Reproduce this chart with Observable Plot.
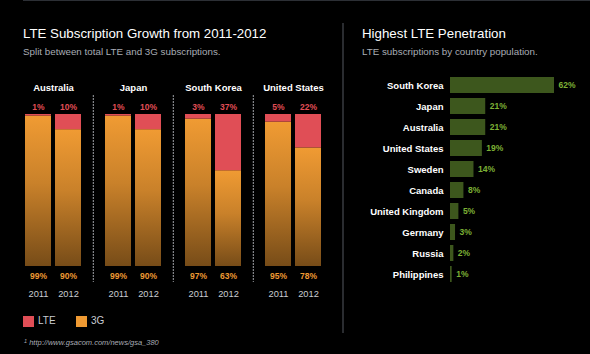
<!DOCTYPE html>
<html>
<head>
<meta charset="utf-8">
<script src="https://cdn.jsdelivr.net/npm/d3@7"></script>
<script src="https://cdn.jsdelivr.net/npm/@observablehq/plot@0.6"></script>
<style>
  html, body { margin: 0; padding: 0; background: #000; }
  #root { position: relative; width: 590px; height: 354px; background: #000; overflow: hidden;
          font-family: "Liberation Sans", Arial, Helvetica, sans-serif; }
  .abs { position: absolute; white-space: nowrap; }
  .title { color: #fff; font-size: 13.3px; }
  .sub { color: #a9adb5; font-size: 9.8px; }
  .topline { position: absolute; left: 23px; top: 0; width: 567px; height: 1px; background: #2c2f35; }
  .vsep { position: absolute; left: 342px; top: 23px; width: 2px; height: 310px; background: #2a2c30; }
  .sw { position: absolute; width: 11px; height: 11px; }
  .leg { color: #c8ccd2; font-size: 10px; }
  .foot { color: #a9adb5; font-size: 7.5px; font-style: italic; }
  svg { position: absolute; }
</style>
</head>
<body>
<div id="root">
  <div class="topline"></div>
  <div class="vsep"></div>
  <div class="abs title" style="left:23px; top:26px;">LTE Subscription Growth from 2011-2012</div>
  <div class="abs sub" style="left:23px; top:46px;">Split between total LTE and 3G subscriptions.</div>
  <div class="abs title" style="left:362px; top:26px;">Highest LTE Penetration</div>
  <div class="abs sub" style="left:362px; top:46px;">LTE subscriptions by country population.</div>
  <div id="legend"></div>
  <div class="abs foot" style="left:24px; top:338px;"><span style="font-size:5.5px; vertical-align:2px">1</span> http://www.gsacom.com/news/gsa_380</div>
</div>
<script>
// ---- Data ----
const countries = ["Australia", "Japan", "South Korea", "United States"];
const years = ["2011", "2012"];
const lteShare = {            // LTE share of subscriptions (%)
  "Australia":     [1, 10],
  "Japan":         [1, 10],
  "South Korea":   [3, 37],
  "United States": [5, 22]
};
const g3Share = {             // 3G share of subscriptions (%)
  "Australia":     [99, 90],
  "Japan":         [99, 90],
  "South Korea":   [97, 63],
  "United States": [95, 78]
};
const penCountries = ["South Korea", "Japan", "Australia", "United States", "Sweden", "Canada", "United Kingdom", "Germany", "Russia", "Philippines"];
const penValues = [62, 21, 21, 19, 14, 8, 5, 3, 2, 1];
const legendItems = ["LTE", "3G"];

const RED = "#e04e56";
const ORANGE = "#ef9a33";

// ---- Build tables ----
const rows = [];
for (const c of countries) {
  years.forEach((y, i) => {
    rows.push({country: c, year: y, lte: lteShare[c][i], g3: g3Share[c][i]});
  });
}
const pen = penCountries.map((c, i) => ({country: c, value: penValues[i]}));
const seps = countries.slice(0, -1).map(c => ({country: c}));

const root = document.getElementById("root");

// ---- Left: stacked bars faceted by country ----
const left = Plot.plot({
  width: 340, height: 320,
  marginTop: 114, marginBottom: 54, marginLeft: 23, marginRight: 18,
  style: {background: "transparent", fontFamily: "Liberation Sans, Arial, sans-serif"},
  fx: {domain: countries, paddingInner: 0.281, paddingOuter: 0, axis: null},
  x: {domain: years, paddingInner: 0.129, paddingOuter: 0, axis: null},
  y: {domain: [0, 100], axis: null},
  marks: [
    Plot.barY(rows, {fx: "country", x: "year", y1: 0, y2: "g3", fill: "url(#grad3g)", inset: 0}),
    Plot.barY(rows, {fx: "country", x: "year", y1: "g3", y2: 100, fill: RED, inset: 0}),
    Plot.text(rows, {fx: "country", x: "year", text: d => d.lte + "%", frameAnchor: "top", dy: -11,
      fill: RED, fontSize: 8.5, fontWeight: "bold"}),
    Plot.text(rows, {fx: "country", x: "year", text: d => d.g3 + "%", frameAnchor: "bottom", dy: 12.5,
      fill: ORANGE, fontSize: 8.5, fontWeight: "bold"}),
    Plot.text(rows, {fx: "country", x: "year", text: "year", frameAnchor: "bottom", dy: 30.5,
      fill: "#c8ccd2", fontSize: 9.3}),
    Plot.text(countries.map(c => ({country: c})), {fx: "country", text: "country", frameAnchor: "top", dy: -30.5,
      fill: "#fff", fontSize: 9.5, fontWeight: "bold"}),
    Plot.ruleX(seps, {fx: "country", x: () => "2012", y1: 112.5, y2: -10.5, dx: 24.8,
      stroke: "#a0a3a8", strokeWidth: 1, strokeDasharray: "2,1"})
  ]
});
left.style.left = "0px";
left.style.top = "0px";
const defs = d3.select(left).insert("defs", ":first-child");
const lg = defs.append("linearGradient").attr("id", "grad3g")
  .attr("x1", 0).attr("y1", 0).attr("x2", 0).attr("y2", 1);
lg.append("stop").attr("offset", "0%").attr("stop-color", "#f09b33");
lg.append("stop").attr("offset", "45%").attr("stop-color", "#c9812a");
lg.append("stop").attr("offset", "100%").attr("stop-color", "#774c18");
root.appendChild(left);

// ---- Right: horizontal bars ----
const right = Plot.plot({
  width: 247, height: 300,
  marginTop: 70.7, marginBottom: 11.3, marginLeft: 107, marginRight: 10,
  style: {background: "transparent", fontFamily: "Liberation Sans, Arial, sans-serif"},
  x: {domain: [0, 62], range: [107, 211], axis: null},
  y: {domain: penCountries, padding: 0.25, label: null},
  marks: [
    Plot.axisY({tickSize: 0, tickPadding: 7, fontSize: 9.5, fontWeight: "bold", fill: "#fff", label: null}),
    Plot.barX(pen, {x: "value", y: "country", fill: "#3d571d"}),
    Plot.text(pen, {x: "value", y: "country", text: d => d.value + "%", textAnchor: "start", dx: 4,
      fill: "#7cb035", fontSize: 8.5, fontWeight: "bold"})
  ]
});
right.style.left = "343px";
right.style.top = "0px";
root.appendChild(right);

// ---- Legend ----
const legendColors = [RED, ORANGE];
const legendX = [23, 76];
const legend = document.getElementById("legend");
legendItems.forEach((name, i) => {
  const sw = document.createElement("div");
  sw.className = "sw";
  sw.style.left = legendX[i] + "px";
  sw.style.top = "316px";
  sw.style.background = legendColors[i];
  legend.appendChild(sw);
  const t = document.createElement("div");
  t.className = "abs leg";
  t.style.left = (legendX[i] + 15) + "px";
  t.style.top = "315px";
  t.textContent = name;
  legend.appendChild(t);
});
</script>
</body>
</html>
